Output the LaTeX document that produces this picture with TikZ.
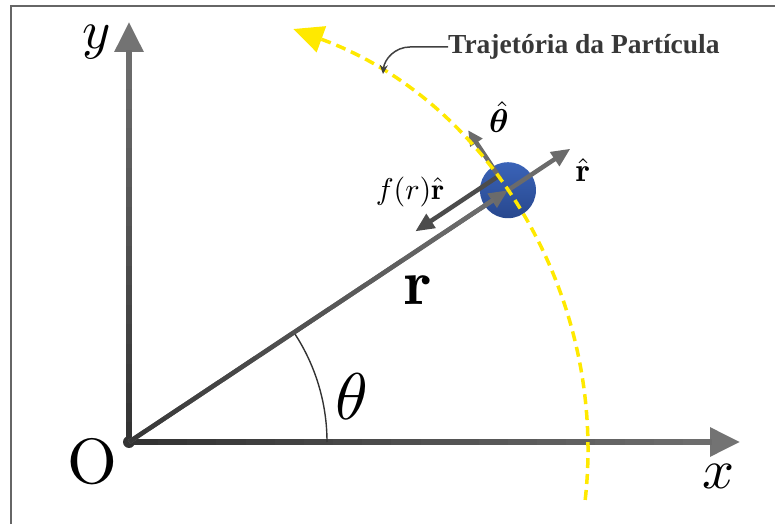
\documentclass[tikz,border=0pt]{standalone}
\usepackage{amsmath, bm}
\usepackage{fontspec}
\newfontfamily\trajfont{Liberation Serif}
\usetikzlibrary{arrows.meta, calc}

\definecolor{trajyellow}{HTML}{FFE900}
\definecolor{balltop}{HTML}{3A63B8}
\definecolor{ballbot}{HTML}{28488E}

\begin{document}
\begin{tikzpicture}[
  x=1pt, y=1pt,
  axis/.style={line width=6pt, black!55, -{Triangle[length=30pt, width=28pt]}},
  vec/.style={line width=4.5pt, black!58, -{Triangle[length=19pt, width=16pt]}},
  traj/.style={trajyellow, line width=3.5pt, dash pattern=on 10pt off 6pt, -{Triangle[length=30pt, width=27pt]}},
  pointer/.style={black!75, line width=1.5pt, -{Stealth[length=9pt, width=8pt]}},
  mlabel/.style={inner sep=0pt}
]
  \useasboundingbox (0,0) rectangle (775,524);
  % frame
  \draw[black!60, line width=2pt] (10.5,0) -- (10.5,517.5) -- (775,517.5);

  \coordinate (O) at (129,82);
  \coordinate (xtip) at (740,82);
  \coordinate (ytip) at (129,502);
  \coordinate (P) at ($(O)+(33.6:455)$);
  \coordinate (C) at (140,74);

  % axes
  \draw[axis] (O) -- (xtip);
  \draw[axis] (O) -- (ytip);
  \foreach \i in {0,...,19} {
    \pgfmathsetmacro\shd{80-1.2*\i}
    \draw[line width=6pt, black!\shd] ($(O)!{\i/20}!(712,82)$) -- ($(O)!{(\i+1)/20}!(712,82)$);
    \draw[line width=6pt, black!\shd] ($(O)!{\i/20}!(129,474)$) -- ($(O)!{(\i+1)/20}!(129,474)$);
  }
  \fill[black!80] (O) circle (6pt);

  % angle
  \draw[black!80, line width=1.4pt] ($(O)+(0:198)$) arc[start angle=0, end angle=33.6, radius=198];

  % particle
  \shade[top color=balltop, bottom color=ballbot] (P) circle (28pt);

  % position vector
  \draw[vec] (O) -- (P);
  \foreach \i in {0,...,19} {
    \pgfmathsetmacro\shd{78-1.1*\i}
    \draw[line width=4.5pt, black!\shd] ($(O)!{\i/20}!($(P)+(213.6:17)$)$) -- ($(O)!{(\i+1)/20}!($(P)+(213.6:17)$)$);
  }

  % unit vectors and force
  \coordinate (rhat) at ($(O)+(33.6:530)$);
  \coordinate (thhat) at ($(P)+(123.6:72)$);
  \coordinate (fstart) at ($(P)+(123.6:17)$);
  \coordinate (fend) at ($(fstart)+(213.6:100)$);
  \draw[vec] (P) -- (rhat);
  \draw[vec, -{Triangle[length=15pt, width=14pt]}] ($(P)+(123.6:14)$) -- (thhat);
  \draw[vec, black!70] (fstart) -- (fend);

  % trajectory
  \draw[traj] ($(C)+(-6.4:448)$) arc[start angle=-6.4, end angle=70, radius=448];

  % labels
  \node[mlabel, scale=5.4] (ylab) at (97,482) {$y$};
  \node[mlabel, scale=5.6] (xlab) at (718,48) {$x$};
  \node[mlabel, scale=6.4] (olab) at (92,62) {O};
  \node[mlabel, scale=6.6] (thlab) at (352,127) {$\theta$};
  \node[mlabel, scale=6.4] (rlab) at (418,234) {$\mathbf{r}$};
  \node[mlabel, scale=3.0] (flab) at (410,332) {$f(r)\hat{\mathbf{r}}$};
  \node[mlabel, scale=3.3] (thhatlab) at (499,407) {$\hat{\bm{\theta}}$};
  \node[mlabel, scale=3.3] (rhatlab) at (583,354) {$\hat{\mathbf{r}}$};
  \node[mlabel, anchor=west, text=black!78] (tlab) at (448,477) {\fontsize{27.5}{30}\selectfont\trajfont\bfseries Trajetória da Partícula};

  \coordinate (tp) at (383,450);
  \draw[pointer] (tlab.west) -- ++(-38,0) to[out=180, in=85] (tp);
\end{tikzpicture}
\end{document}
